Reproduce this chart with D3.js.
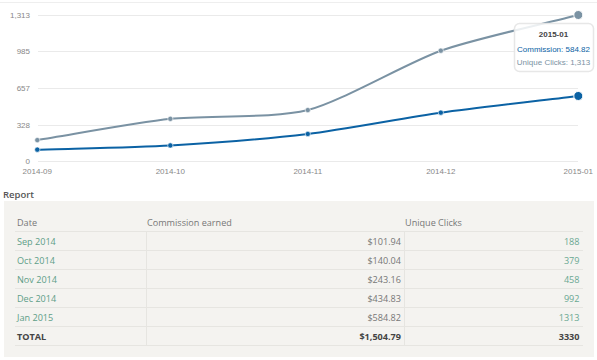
<!DOCTYPE html>
<html><head><meta charset="utf-8">
<script src="https://cdn.jsdelivr.net/npm/d3@7"></script>
<style>
html,body{margin:0;padding:0;background:#fff;}
svg{display:block;}
</style></head>
<body>
<svg id="c" width="597" height="360"></svg>
<script>
const months = ["2014-09","2014-10","2014-11","2014-12","2015-01"];
const commission = [101.94,140.04,243.16,434.83,584.82];
const clicks = [188,379,458,992,1313];
const yTicks = [0,328,657,985,1313];
const rowLabels = ["Sep 2014","Oct 2014","Nov 2014","Dec 2014","Jan 2015"];
const commissionText = ["$101.94","$140.04","$243.16","$434.83","$584.82"];
const totalCommission = "$1,504.79";
const totalClicks = "3330";
const headers = ["Date","Commission earned","Unique Clicks"];

const svg = d3.select("#c");
const parse = d3.timeParse("%Y-%m");
const dates = months.map(parse);
const x = d3.scaleTime().domain(d3.extent(dates)).range([37.3,578.3]);
const y = d3.scaleLinear().domain([0,1313]).range([161,15]);

// Morris.js-style smoothing curve
function MorrisCurve(context){ this._context = context; }
MorrisCurve.prototype = {
  areaStart(){}, areaEnd(){},
  lineStart(){ this._p = []; },
  point(px,py){ this._p.push([+px,+py]); },
  lineEnd(){
    const p = this._p, n = p.length, c = this._context;
    if (!n) return;
    const grad = (a,b)=>(a[1]-b[1])/(a[0]-b[0]);
    const g = p.map((q,i)=>{
      if (i>0 && i<n-1) return grad(p[i-1],p[i+1]);
      if (i>0) return grad(p[i-1],q);
      if (i<n-1) return grad(q,p[i+1]);
      return 0;
    });
    c.moveTo(p[0][0],p[0][1]);
    for (let i=1;i<n;i++){
      const ix = (p[i][0]-p[i-1][0])/4;
      c.bezierCurveTo(p[i-1][0]+ix, p[i-1][1]+ix*g[i-1], p[i][0]-ix, p[i][1]-ix*g[i], p[i][0], p[i][1]);
    }
  }
};
const curve = ctx => new MorrisCurve(ctx);

// top border line
svg.append("line").attr("x1",0).attr("x2",597).attr("y1",2.5).attr("y2",2.5)
  .attr("stroke","#eee").attr("stroke-width",1);

// gridlines
const grid = svg.append("g");
grid.selectAll("line").data(yTicks).join("line")
  .attr("x1",38).attr("x2",578)
  .attr("y1",d=>Math.round(y(d))+0.5).attr("y2",d=>Math.round(y(d))+0.5)
  .attr("stroke","#eaeaea").attr("stroke-width",1);
grid.selectAll("text").data(yTicks).join("text")
  .attr("x",30).attr("y",d=>y(d)+3)
  .attr("text-anchor","end")
  .attr("font-family","Liberation Sans, Arial, sans-serif")
  .attr("font-size",8).attr("fill","#888")
  .text(d=>d3.format(",")(d));

// x labels
const xa = svg.append("g");
xa.selectAll("text").data(dates).join("text")
  .attr("x",d=>x(d)).attr("y",173.5)
  .attr("text-anchor","middle")
  .attr("font-family","Liberation Sans, Arial, sans-serif")
  .attr("font-size",8).attr("fill","#888")
  .text((d,i)=>months[i]);

const series = [
  {vals: clicks, color:"#7A92A3"},
  {vals: commission, color:"#0b62a4"}
];
series.forEach(s=>{
  const line = d3.line().x((d,i)=>x(dates[i])).y(d=>y(d)).curve(curve);
  svg.append("path").attr("d",line(s.vals)).attr("fill","none")
    .attr("stroke",s.color).attr("stroke-width",2);
  svg.append("g").selectAll("circle").data(s.vals).join("circle")
    .attr("cx",(d,i)=>x(dates[i])).attr("cy",d=>y(d))
    .attr("r",(d,i)=>i===s.vals.length-1?4.5:2.6)
    .attr("fill",s.color).attr("stroke","#fff").attr("stroke-width",(d,i)=>i===s.vals.length-1?1:0.6);
});

// tooltip
const tt = svg.append("g");
tt.append("rect").attr("x",514.5).attr("y",23.5).attr("width",79).attr("height",48)
  .attr("rx",5).attr("fill","rgba(255,255,255,0.85)")
  .attr("stroke","rgba(228,228,228,0.9)").attr("stroke-width",1.5);
const ttFont = "Liberation Sans, Arial, sans-serif";
tt.append("text").attr("x",553.5).attr("y",37).attr("text-anchor","middle")
  .attr("font-family",ttFont).attr("font-size",8).attr("font-weight","bold").attr("fill","#444")
  .text(months[4]);
tt.append("text").attr("x",553.5).attr("y",51.5).attr("text-anchor","middle")
  .attr("font-family",ttFont).attr("font-size",8).attr("fill","#0b62a4")
  .text("Commission: " + commission[4]);
tt.append("text").attr("x",553.5).attr("y",65).attr("text-anchor","middle")
  .attr("font-family",ttFont).attr("font-size",8).attr("fill","#7A92A3")
  .text("Unique Clicks: " + d3.format(",")(clicks[4]));

// Report section
const tf = "Open Sans, sans-serif";
const fs = 9.1;
svg.append("text").attr("x",3).attr("y",197.5).attr("font-family",tf)
  .attr("font-size",9.5).attr("font-weight",600).attr("fill","#555").text("Report");
svg.append("rect").attr("x",4).attr("y",201).attr("width",590).attr("height",156).attr("fill","#f4f3f0");

const rowY = [222,241,260,279,298,317,336];
const lineY = [231,250,269,288,307,326,345];
svg.append("g").selectAll("line").data(lineY).join("line")
  .attr("x1",15).attr("x2",583).attr("y1",d=>d+0.5).attr("y2",d=>d+0.5)
  .attr("stroke","#e6e5e1");
[146,404].forEach(cx=>{
  svg.append("line").attr("x1",cx+0.5).attr("x2",cx+0.5).attr("y1",231).attr("y2",345)
    .attr("stroke","#e6e5e1");
});

const hx = [17,147,405];
headers.forEach((h,i)=>{
  svg.append("text").attr("x",hx[i]).attr("y",rowY[0]+3.5).attr("font-family",tf)
    .attr("font-size",fs).attr("fill","#777").text(h);
});
rowLabels.forEach((r,i)=>{
  const yy = rowY[i+1]+3.5;
  svg.append("text").attr("x",17).attr("y",yy).attr("font-family",tf)
    .attr("font-size",fs).attr("fill","#5e9e88").text(r);
  svg.append("text").attr("x",401).attr("y",yy).attr("text-anchor","end").attr("font-family",tf)
    .attr("font-size",fs).attr("fill","#777").text(commissionText[i]);
  svg.append("text").attr("x",579.5).attr("y",yy).attr("text-anchor","end").attr("font-family",tf)
    .attr("font-size",fs).attr("fill","#6aa892").text(clicks[i]);
});
const ty = rowY[6]+3.5;
svg.append("text").attr("x",17).attr("y",ty).attr("font-family",tf).attr("font-size",fs)
  .attr("font-weight","bold").attr("fill","#444").text("TOTAL");
svg.append("text").attr("x",401).attr("y",ty).attr("text-anchor","end").attr("font-family",tf).attr("font-size",fs)
  .attr("font-weight","bold").attr("fill","#444").text(totalCommission);
svg.append("text").attr("x",579.5).attr("y",ty).attr("text-anchor","end").attr("font-family",tf).attr("font-size",fs)
  .attr("font-weight","bold").attr("fill","#444").text(totalClicks);
</script>
</body></html>
